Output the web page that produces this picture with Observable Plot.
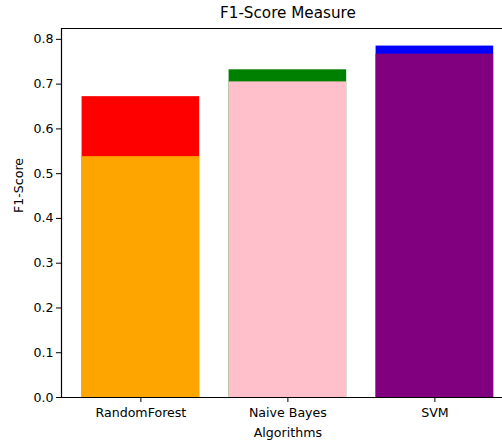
<!DOCTYPE html>
<html><head><meta charset="utf-8">
<script src="https://cdn.jsdelivr.net/npm/d3@7"></script>
<script src="https://cdn.jsdelivr.net/npm/@observablehq/plot@0.6"></script>
<style>body{margin:0;background:#fff}</style></head>
<body><div id="c"></div>
<script>
const algorithms = ["RandomForest", "Naive Bayes", "SVM"];
const topScores = [0.672, 0.732, 0.785];
const baseScores = [0.538, 0.705, 0.767];
const topColors = ["red", "green", "blue"];
const baseColors = ["orange", "pink", "purple"];
const yTicks = [0, 0.1, 0.2, 0.3, 0.4, 0.5, 0.6, 0.7, 0.8];
const title = "F1-Score Measure";
const xLabel = "Algorithms";
const yLabel = "F1-Score";

const bars = algorithms.flatMap((a, i) => [
  {i, name: a, v: topScores[i], c: topColors[i]},
  {i, name: a, v: baseScores[i], c: baseColors[i]}
]);
const yMax = Math.max(...topScores) * 1.05;

const chart = Plot.plot({
  width: 502, height: 441,
  marginLeft: 61, marginRight: 0, marginTop: 28, marginBottom: 44,
  style: {fontFamily: "DejaVu Sans", fontSize: "12.6px", color: "black", background: "white"},
  x: {type: "linear", domain: [-0.54, 2.46], axis: null},
  y: {domain: [0, yMax], axis: null},
  color: {type: "identity"},
  marks: [
    Plot.rectY(bars, {x1: d => d.i - 0.4, x2: d => d.i + 0.4, y1: 0, y2: "v", fill: "c"}),
    Plot.axisY({ticks: yTicks, tickFormat: ".1f", tickSize: 5, tickPadding: 3, label: null, fontSize: 12.6}),
    Plot.axisX({ticks: [0, 1, 2], tickFormat: i => algorithms[i], tickSize: 5, tickPadding: 6, label: null, fontSize: 12.6}),
    Plot.ruleY([0, yMax], {stroke: "black", strokeWidth: 1.2}),
    Plot.ruleX([-0.54], {stroke: "black", strokeWidth: 1.2}),
    Plot.text([title], {x: () => 1, frameAnchor: "top", lineAnchor: "middle", dy: -15, fontSize: 15.2}),
    Plot.text([xLabel], {x: () => 1, frameAnchor: "bottom", lineAnchor: "middle", dy: 35, fontSize: 12.6}),
    Plot.text([yLabel], {frameAnchor: "left", dx: -43, rotate: -90, fontSize: 12.6})
  ]
});
document.getElementById("c").append(chart);
</script>
</body></html>
